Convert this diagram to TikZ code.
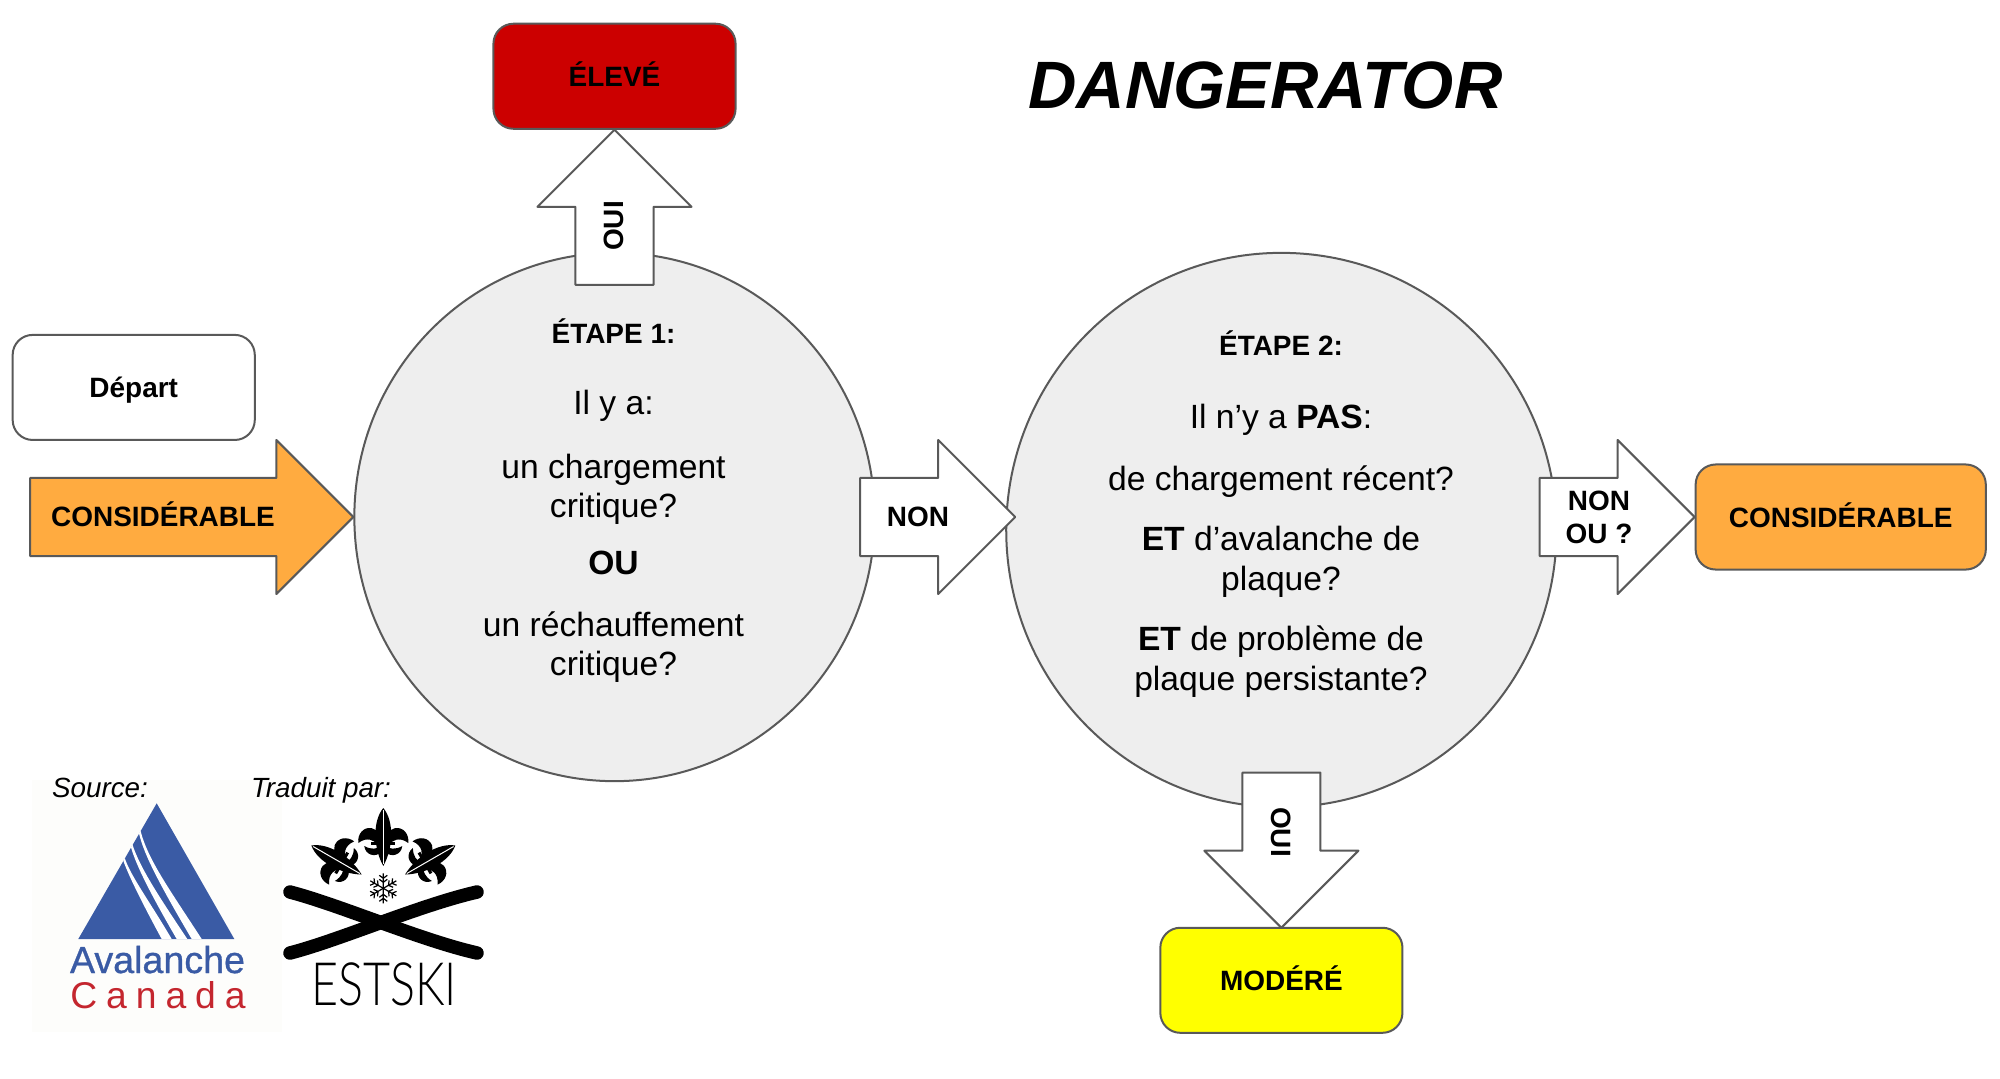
\documentclass[tikz,border=0pt]{standalone}
\usepackage{fontspec}
\setmainfont{Liberation Sans}
\newfontfamily\canadafont[LetterSpace=24]{Liberation Sans}
\newfontfamily\avalfont[FakeBold=0.8]{Liberation Sans}
\newfontfamily\estfont{Lato Light}
\usetikzlibrary{shapes.geometric, shapes.arrows, arrows.meta}

\definecolor{contour}{HTML}{595959}
\definecolor{fondbulle}{HTML}{EEEEEE}
\definecolor{orange}{HTML}{FFAB40}
\definecolor{rouge}{HTML}{CC0000}
\definecolor{jaune}{HTML}{FFFF00}
\definecolor{bleuac}{HTML}{3A5BA5}
\definecolor{rougeac}{HTML}{C4262E}
\definecolor{fondlogo}{HTML}{FDFDFB}

\tikzset{
  fleur/.pic={
    \fill (0,-35) .. controls (-11,-22) and (-10,5) .. (0,23) .. controls (10,5) and (11,-22) .. (0,-35);
    \foreach \s in {-1,1} {
      \fill (\s*25,0) .. controls (\s*26,-9) and (\s*20,-16) .. (\s*12,-15) .. controls (\s*6,-14) and (\s*2,-7) .. (\s*2,1)
        -- (\s*7,1) .. controls (\s*8,-2) and (\s*16,-7) .. (\s*25,0);
      \fill (\s*19,3) .. controls (\s*18,12) and (\s*8,15) .. (\s*2,9) -- (\s*2,3) .. controls (\s*6,6) and (\s*12,7) .. (\s*19,3);
    }
    \fill (-12,-1.5) rectangle (12,1.5);
    \draw [white, line width=0.01cm] (0,-33) -- (0,21);
  }
}

\begin{document}
\begin{tikzpicture}[x=0.01cm, y=-0.01cm, node distance=2cm, line join=round,
  bulle/.style={ellipse, draw=contour, line width=0.02cm, fill=fondbulle, inner sep=0pt},
  boite/.style={rectangle, rounded corners=0.2cm, draw=contour, line width=0.02cm, minimum width=2.42cm, minimum height=1.05cm,
    text height=0.2cm, text depth=0pt, font=\fontsize{7.95}{10}\selectfont\bfseries},
  fleche/.style={single arrow, draw=contour, line width=0.02cm, fill=white, inner xsep=0pt, inner ysep=0.38cm, outer sep=0pt,
    single arrow head extend=0.38cm, single arrow head indent=0pt, minimum width=1.53cm},
  etiquette/.style={font=\fontsize{7.95}{9.4}\selectfont\bfseries, align=center, inner sep=0pt},
  corps/.style={font=\fontsize{9.56}{11.2}\selectfont, align=center, inner sep=0pt},
  note/.style={font=\fontsize{7.9}{10}\selectfont\itshape, inner sep=0pt, anchor=base}
]
\useasboundingbox (0,0) rectangle (2000,1078);

\node (titre) [font=\fontsize{19.05}{22}\selectfont\bfseries\itshape, inner sep=0pt] at (1265.5,85) {DANGERATOR};

% les deux etapes
\node (etapeun) [bulle, minimum width=5.2cm, minimum height=5.28cm] at (614.5,517) {};
\node (etapedeux) [bulle, minimum width=5.5cm, minimum height=5.54cm, right of=etapeun, xshift=4.665cm, yshift=-0.13cm] {};

\node (texteun) [corps] at (613.5,500.5) {{\fontsize{7.95}{10}\selectfont\bfseries ÉTAPE 1:}\\[0.32cm]
  Il y a:\\[0.24cm] un chargement\\critique?\\[0.18cm] \textbf{OU}\\[0.22cm] un réchauffement\\critique?};
\node (textedeux) [corps] at (1281,514) {{\fontsize{7.95}{10}\selectfont\bfseries ÉTAPE 2:}\\[0.33cm]
  Il n’y a \textbf{PAS}:\\[0.23cm] de chargement récent?\\[0.21cm] \textbf{ET} d’avalanche de\\plaque?\\[0.21cm]
  \textbf{ET} de problème de\\plaque persistante?};

% les boites
\node (eleve) [boite, fill=rouge, above of=etapeun, yshift=2.405cm] {ÉLEVÉ};
\node (modere) [boite, fill=jaune, below of=etapedeux, yshift=-2.5cm] {MODÉRÉ};
\node (depart) [boite, left of=etapeun, xshift=-2.805cm, yshift=1.295cm] {Départ};
\node (final) [boite, fill=orange, minimum width=2.9cm, right of=etapedeux, xshift=3.59cm, yshift=0.13cm] {CONSIDÉRABLE};

% les fleches
\node (entree) [fleche, fill=orange, minimum height=3.23cm, anchor=tip] at (etapeun.west) {};
\node (versdeux) [fleche, minimum height=1.55cm, anchor=tip] at ([shift={(10,-13)}]etapedeux.west) {};
\node (versfinal) [fleche, minimum height=1.55cm, anchor=tip] at (final.west) {};
\node (verseleve) [fleche, minimum height=1.55cm, rotate=90, anchor=tip] at (eleve.south) {};
\node (versmodere) [fleche, minimum height=1.55cm, rotate=-90, anchor=tip] at ([shift={(0,1)}]modere.north) {};

\node (txtentree) [etiquette] at (163,514.5) {CONSIDÉRABLE};
\node (txtnon) [etiquette] at (918,517) {NON};
\node (txtnonou) [etiquette] at (1599,517) {NON\\OU ?};
\node (txtouihaut) [etiquette, rotate=90] at (613.5,226) {OUI};
\node (txtouibas) [etiquette, rotate=-90] at (1281,832) {OUI};

% les logos
\fill [fondlogo] (32,780) rectangle (282,1032);
\node (source) [note] at (100,797) {Source:};
\node (traduit) [note] at (321,797) {Traduit par:};

\fill [bleuac] (156.7,803.3) -- (78.3,939) -- (234.3,939) -- cycle;
\fill [white] (123.3,860.7) .. controls (128,874) and (140,899) .. (161.7,939) -- (171.7,939) .. controls (150,902) and (130,875) .. (124.8,858) -- cycle;
\fill [white] (131,847.3) .. controls (136,865) and (150,893) .. (176.7,939) -- (187.3,939) .. controls (160,898) and (140,868) .. (132.5,844.7) -- cycle;
\fill [white] (139,833.3) .. controls (144,855) and (160,885) .. (191.7,939) -- (201.7,939) .. controls (170,890) and (148,860) .. (140.5,830.7) -- cycle;
\node (avalanche) [font=\fontsize{10.7}{12}\selectfont\avalfont, text=bleuac, inner sep=0pt, anchor=base] at (157.5,973) {Avalanche};
\node (canada) [font=\fontsize{10.6}{12}\selectfont\canadafont, text=rougeac, inner sep=0pt, anchor=base] at (158,1008) {Canada};

\pic at (383.3,843) {fleur};
\pic [rotate=60] at (341.7,863) {fleur};
\pic [rotate=-60] at (425,863) {fleur};
\foreach \a in {30,90,150,210,270,330} {
  \draw [line width=0.012cm, shift={(383.3,888.3)}, rotate=\a] (0,0) -- (15,0)
    (6,0) -- (9,-4) (6,0) -- (9,4) (10,0) -- (13,-4) (10,0) -- (13,4);
}
\draw [line width=0.135cm, line cap=round] (290,892) .. controls (340,905) and (420,940) .. (477,953);
\draw [line width=0.135cm, line cap=round] (477,892) .. controls (420,905) and (340,940) .. (290,953);
\node (estski) [font=\fontsize{17}{20}\selectfont\estfont, xscale=0.78, inner sep=0pt, anchor=base] at (384,1005) {ESTSKI};

\end{tikzpicture}
\end{document}
